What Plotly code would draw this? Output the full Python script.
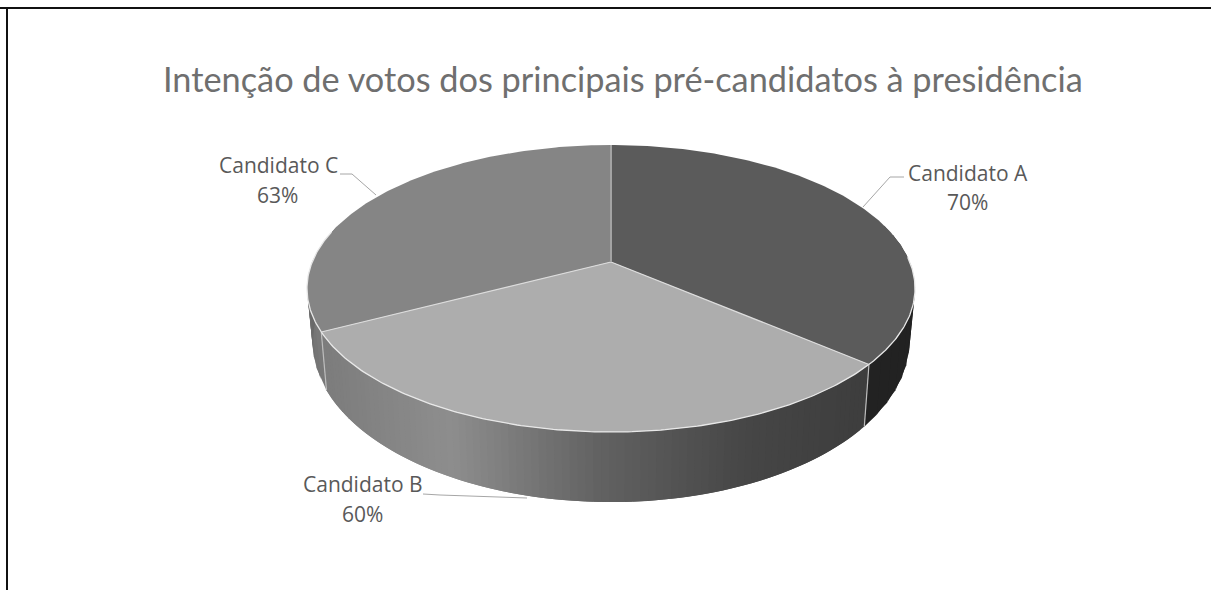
import numpy as np
import plotly.graph_objects as go

# ---- data -------------------------------------------------------------
CATEGORIES = ["Candidato A", "Candidato B", "Candidato C"]
VALUES = [70, 60, 63]
TITLE = "Intenção de votos dos principais pré-candidatos à presidência"

# ---- style ------------------------------------------------------------
TOP_COLORS = ["#5b5b5b", "#adadad", "#858585"]
W, H = 1211, 590
APEX_X, APEX_Y = 611, 262      # pie centre on the top face
BX, AY, K = 298.8, 138.6, 0.1847  # perspective of the top face
LOW_BX, LOW_Y, LOW_AY = 298.8 * 0.982, 312, 155  # perspective of the lower rim


def top(theta):
    u, v = np.sin(theta), np.cos(theta)
    d = 1 + K * v
    return APEX_X + BX * u / d, APEX_Y - AY * v / d


def low(theta):
    u, v = np.sin(theta), np.cos(theta)
    d = 1 + K * v
    return APEX_X + LOW_BX * u / d, LOW_Y - LOW_AY * v / d


total = sum(VALUES)
edges = np.radians(np.concatenate([[0], np.cumsum(VALUES)]) / total * 360)

fig = go.Figure()


def poly(xs, ys, color):
    fig.add_trace(go.Scatter(
        x=list(xs), y=list(ys), mode="lines", fill="toself", fillcolor=color,
        line=dict(color=color, width=0),
        hoverinfo="skip", showlegend=False))


def stroke(xs, ys, color, width):
    fig.add_trace(go.Scatter(
        x=list(xs), y=list(ys), mode="lines",
        line=dict(color=color, width=width),
        hoverinfo="skip", showlegend=False))


def rim_shade(i, frac, x):
    # gray level of a rim strip
    if i == 0:
        return 34
    if i == 1:
        return np.interp(x, [325, 450, 600, 750, 865], [125, 142, 98, 70, 62])
    return np.interp(frac, [0, 0.3], [122, 95])


# rim, drawn strip by strip so it can carry the gradient (strips overlap to hide seams)
for i in [2, 0, 1]:
    a, b = edges[i], edges[i + 1]
    n = 90 if i == 1 else 30
    ts = np.linspace(a, b, n + 1)
    if i == 0:
        ts = ts[ts > np.radians(70)]
    if i == 2:
        ts = ts[ts < np.radians(285)]
    span = b - a
    step = ts[1] - ts[0]
    for t0, t1 in zip(ts[:-1], ts[1:]):
        tm = (t0 + t1) / 2
        g = int(rim_shade(i, (tm - a) / span, top(tm)[0]))
        col = f"rgb({g},{g},{g})"
        t_end = min(t1 + step, b)
        x0, y0 = top(t0)
        x1, y1 = top(t_end)
        x2, y2 = low(t_end)
        x3, y3 = low(t0)
        poly([x0, x1, x2, x3, x0], [y0, y1, y2, y3, y0], col)

# creases on the rim
for t in edges[1:3]:
    x0, y0 = top(t)
    x1, y1 = low(t)
    stroke([x0, x1], [y0, y1], "#bdbdbd", 1.2)

# top faces
for i in range(3):
    ts = np.linspace(edges[i], edges[i + 1], 160)
    x, y = top(ts)
    poly(np.concatenate([[APEX_X], x, [APEX_X]]), np.concatenate([[APEX_Y], y, [APEX_Y]]), TOP_COLORS[i])

# light seams on the top face: along the visible front arc and the radii
ts = np.linspace(np.radians(88), np.radians(283), 300)
x, y = top(ts)
stroke(x, y, "#e8e8e8", 1.3)
for t, col, wd in ((edges[1], "#dcdcdc", 1.2), (edges[2], "#dcdcdc", 1.2), (edges[0], "#a4a4a4", 2)):
    x, y = top(np.array([t]))
    stroke([APEX_X, x[0]], [APEX_Y, y[0]], col, wd)

# leader lines
LEADERS = [
    ([904, 890, 863], [177, 177, 207]),
    ([423, 440, 527], [494, 495, 498]),
    ([340, 352, 376], [174, 174, 195]),
]
for lx, ly in LEADERS:
    stroke(lx, ly, "#a6a6a6", 1)

# labels
LABEL_POS = [(968, 173, 967, 202), (363, 484, 362, 514), (278, 165, 277, 195)]
annotations = []
for name, val, (x1, y1, x2, y2) in zip(CATEGORIES, VALUES, LABEL_POS):
    for txt, xx, yy in ((name, x1, y1), (f"{val}%", x2, y2)):
        annotations.append(dict(x=xx, y=yy, text=txt, showarrow=False, xref="x", yref="y",
                                xanchor="center", yanchor="middle",
                                font=dict(family="Open Sans", size=21, color="#595959")))
annotations.append(dict(x=622.5, y=78, text=TITLE, showarrow=False, xref="x", yref="y",
                        xanchor="center", yanchor="middle",
                        font=dict(family="Lato", size=34.3, color="#6f6f6f")))

fig.update_layout(
    width=W, height=H, margin=dict(l=0, r=0, t=0, b=0),
    paper_bgcolor="white", plot_bgcolor="white", showlegend=False,
    xaxis=dict(range=[0, W], visible=False, fixedrange=True),
    yaxis=dict(range=[H, 0], visible=False, fixedrange=True),
    annotations=annotations,
    shapes=[
        dict(type="line", xref="x", yref="y", x0=0, x1=W, y0=8, y1=8, line=dict(color="#111111", width=2)),
        dict(type="line", xref="x", yref="y", x0=7, x1=7, y0=8, y1=H, line=dict(color="#111111", width=2)),
    ],
)
fig.write_html("out.html", config={"displayModeBar": False},
               post_script="document.body.style.margin='0';document.body.style.overflow='hidden';")
